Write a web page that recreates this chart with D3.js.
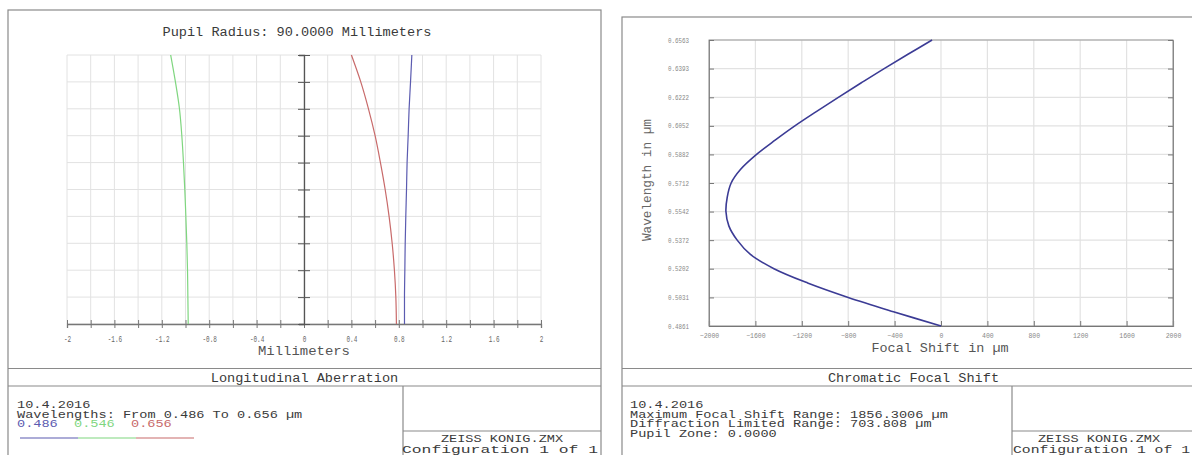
<!DOCTYPE html>
<html><head><meta charset="utf-8">
<script src="https://cdn.jsdelivr.net/npm/d3@7"></script>
<style>
body{margin:0;background:#fff}
svg{display:block}
text{font-family:"Liberation Mono","Courier New",monospace}
</style>
</head><body>
<svg id="c" width="1192" height="455"></svg>
<script>
// ---------- Longitudinal aberration data ----------
const pupil = [0, 0.1, 0.2, 0.3, 0.4, 0.5, 0.6, 0.7, 0.8, 0.9, 1.0];
const wl486 = [0.848, 0.848, 0.851, 0.854, 0.859, 0.865, 0.870, 0.879, 0.887, 0.899, 0.910];
const wl546 = [-0.977, -0.980, -0.983, -0.989, -0.997, -1.006, -1.017, -1.031, -1.051, -1.085, -1.125];
const wl656 = [0.780, 0.775, 0.763, 0.744, 0.718, 0.685, 0.645, 0.600, 0.544, 0.479, 0.400];
const lonXTicks = [-2, -1.8, -1.6, -1.4, -1.2, -1, -0.8, -0.6, -0.4, -0.2, 0, 0.2, 0.4, 0.6, 0.8, 1, 1.2, 1.4, 1.6, 1.8, 2];
const lonXLabels = ["-2", "", "-1.6", "", "-1.2", "", "-0.8", "", "-0.4", "", "0", "", "0.4", "", "0.8", "", "1.2", "", "1.6", "", "2"];
const legendNames = ["0.486", "0.546", "0.656"];
const legendColors = ["#5b5bb0", "#7fd67f", "#c86a6a"];

// ---------- Chromatic focal shift data ----------
const cfsWavelength = [0.4861, 0.4946, 0.5031, 0.5117, 0.5202, 0.5287, 0.5372, 0.5457, 0.5542, 0.5627, 0.5712, 0.5792, 0.5882, 0.5967, 0.6052, 0.6137, 0.6222, 0.6307, 0.6393, 0.6478, 0.6563];
const cfsShift = [0, -410, -800, -1150, -1440, -1643, -1757, -1829, -1854, -1843, -1809, -1729, -1590, -1430, -1260, -1075, -885, -690, -490, -285, -77];
const cfsYTicks = [0.4861, 0.5031, 0.5202, 0.5372, 0.5542, 0.5712, 0.5882, 0.6052, 0.6222, 0.6393, 0.6563];
const cfsYLabels = ["0.4861", "0.5031", "0.5202", "0.5372", "0.5542", "0.5712", "0.5882", "0.6052", "0.6222", "0.6393", "0.6563"];
const cfsXTicks = [-2000, -1600, -1200, -800, -400, 0, 400, 800, 1200, 1600, 2000];

const svg = d3.select("#c");
const TXT = "#3a3a3a";
const BORDER = "#8a8a8a";
const GRID = "#e2e2e2";
const CW = 8.15; // character advance of the report font

function mono(sel, str, size) {
  return sel.attr("font-size", size).attr("textLength", str.length * CW)
    .attr("lengthAdjust", "spacingAndGlyphs").text(str);
}

function panel(o) {
  const g = svg.append("g");
  const {x0, y0, x1, y1, divX} = o;
  g.append("rect").attr("x", x0).attr("y", y0).attr("width", x1 - x0).attr("height", y1 - y0)
    .attr("fill", "none").attr("stroke", BORDER).attr("stroke-width", 1.2);
  g.append("line").attr("x1", x0).attr("x2", x1).attr("y1", 368.5).attr("y2", 368.5).attr("stroke", BORDER).attr("stroke-width", 1.2);
  g.append("line").attr("x1", x0).attr("x2", x1).attr("y1", 386).attr("y2", 386).attr("stroke", BORDER).attr("stroke-width", 1.2);
  g.append("line").attr("x1", divX).attr("x2", divX).attr("y1", 386).attr("y2", y1).attr("stroke", BORDER).attr("stroke-width", 1.2);
  g.append("line").attr("x1", divX).attr("x2", x1).attr("y1", 431).attr("y2", 431).attr("stroke", BORDER).attr("stroke-width", 1.2);
  mono(g.append("text").attr("x", (x0 + x1) / 2).attr("y", 382).attr("text-anchor", "middle").attr("fill", TXT), o.title, 12.5);
  o.lines.forEach((t, i) => {
    mono(g.append("text").attr("x", o.textX).attr("y", 408 + i * 9.5).attr("fill", TXT), t, 11);
  });
  mono(g.append("text").attr("x", o.fileX).attr("y", 441.5).attr("text-anchor", "middle").attr("fill", TXT),
    "ZEISS KONIG.ZMX", 11.5);
  g.append("text").attr("x", o.cfgX).attr("y", 452.5).attr("font-size", 11.5).attr("fill", TXT)
    .attr("textLength", o.cfgW).attr("lengthAdjust", "spacingAndGlyphs").text("Configuration 1 of 1");
  return g;
}

// ================= LEFT: Longitudinal Aberration =================
const L = panel({x0: 8, y0: 10, x1: 601, y1: 480, divX: 403, title: "Longitudinal Aberration",
  lines: ["10.4.2016", "Wavelengths: From 0.486 To 0.656 \u00b5m"], textX: 17,
  fileX: 502, cfgX: 402, cfgW: 196});
legendNames.forEach((n, i) => {
  mono(L.append("text").attr("x", 17 + i * 57).attr("y", 427).attr("fill", legendColors[i]), n, 11);
  L.append("line").attr("x1", 20 + i * 58).attr("x2", 20 + (i + 1) * 58).attr("y1", 438).attr("y2", 438)
    .attr("stroke", legendColors[i]).attr("stroke-width", 1.2);
});

mono(L.append("text").attr("x", 297).attr("y", 36).attr("text-anchor", "middle").attr("fill", TXT),
  "Pupil Radius: 90.0000 Millimeters", 12.5);

const lx0 = 67, lx1 = 541, ly0 = 55, ly1 = 324;
const xL = d3.scaleLinear().domain([-2, 2]).range([lx0, lx1]);
const yL = d3.scaleLinear().domain([0, 1]).range([ly1, ly0]);

const lg = L.append("g");
lg.selectAll("line.vg").data(lonXTicks).join("line")
  .attr("x1", d => xL(d)).attr("x2", d => xL(d)).attr("y1", ly0).attr("y2", ly1)
  .attr("stroke", GRID).attr("stroke-width", 1);
lg.selectAll("line.hg").data(pupil).join("line").attr("class", "hg")
  .attr("x1", lx0).attr("x2", lx1).attr("y1", d => yL(d)).attr("y2", d => yL(d))
  .attr("stroke", GRID).attr("stroke-width", 1);

const axL = d3.axisBottom(xL).tickValues(lonXTicks)
  .tickFormat((d, i) => lonXLabels[i]).tickSize(4).tickPadding(8);
const axLg = L.append("g").attr("transform", `translate(0,${ly1})`).call(axL);
axLg.select(".domain").attr("stroke", "#777").attr("stroke-width", 1.3);
axLg.selectAll(".tick line").attr("y1", -4).attr("y2", 4).attr("stroke", "#777");
axLg.selectAll(".tick text").attr("fill", "#666").attr("font-size", 9)
  .attr("textLength", function() { return this.textContent.length * 3.6; })
  .attr("lengthAdjust", "spacingAndGlyphs");

const ayL = d3.axisLeft(yL).tickValues(pupil).tickFormat("").tickSize(5);
const ayLg = L.append("g").attr("transform", `translate(${xL(0)},0)`).call(ayL);
ayLg.select(".domain").attr("stroke", "#555").attr("stroke-width", 1.3);
ayLg.selectAll(".tick line").attr("x1", -6).attr("x2", 6).attr("stroke", "#555");

L.append("text").attr("x", 304).attr("y", 355).attr("text-anchor", "middle").attr("font-size", 13)
  .attr("textLength", 92).attr("lengthAdjust", "spacingAndGlyphs")
  .attr("fill", "#555").text("Millimeters");

const lineL = d3.line().x(d => xL(d[0])).y(d => yL(d[1])).curve(d3.curveMonotoneY);
[[wl486, legendColors[0]], [wl546, legendColors[1]], [wl656, legendColors[2]]].forEach(([arr, c]) => {
  L.append("path").attr("d", lineL(arr.map((v, i) => [v, pupil[i]])))
    .attr("fill", "none").attr("stroke", c).attr("stroke-width", 1.2);
});

// ================= RIGHT: Chromatic Focal Shift =================
const R = panel({x0: 622, y0: 17, x1: 1205, y1: 480, divX: 1012, title: "Chromatic Focal Shift",
  lines: ["10.4.2016", "Maximum Focal Shift Range: 1856.3006 \u00b5m", "Diffraction Limited Range: 703.808 \u00b5m", "Pupil Zone: 0.0000"],
  textX: 630, fileX: 1099, cfgX: 1013, cfgW: 177});

const rx0 = 709, rx1 = 1173, ry0 = 40, ry1 = 326;
const xR = d3.scaleLinear().domain([-2000, 2000]).range([rx0, rx1]);
const yR = d3.scaleLinear().domain([0.4861, 0.6563]).range([ry1, ry0]);

const rg = R.append("g");
rg.selectAll("line.vg").data(cfsXTicks).join("line")
  .attr("x1", d => xR(d)).attr("x2", d => xR(d)).attr("y1", ry0).attr("y2", ry1)
  .attr("stroke", GRID).attr("stroke-width", 1.2);
rg.selectAll("line.hg").data(cfsYTicks).join("line").attr("class", "hg")
  .attr("x1", rx0).attr("x2", rx1).attr("y1", d => yR(d)).attr("y2", d => yR(d))
  .attr("stroke", GRID).attr("stroke-width", 1.2);
R.append("rect").attr("x", rx0).attr("y", ry0).attr("width", rx1 - rx0).attr("height", ry1 - ry0)
  .attr("fill", "none").attr("stroke", "#9a9a9a").attr("stroke-width", 1);

const axR = d3.axisBottom(xR).tickValues(cfsXTicks).tickFormat(d3.format("d")).tickSize(-5).tickPadding(7);
const axRg = R.append("g").attr("transform", `translate(0,${ry1})`).call(axR);
axRg.select(".domain").attr("stroke", "#777").attr("stroke-width", 1.2);
axRg.selectAll(".tick line").attr("stroke", "#777");
axRg.selectAll(".tick text").attr("fill", "#888").attr("font-size", 7)
  .attr("textLength", function() { return this.textContent.length * 3.9; })
  .attr("lengthAdjust", "spacingAndGlyphs");

const ayR = d3.axisLeft(yR).tickValues(cfsYTicks).tickFormat((d, i) => cfsYLabels[i]).tickSize(-5).tickPadding(20);
const ayRg = R.append("g").attr("transform", `translate(${rx0},0)`).call(ayR);
ayRg.select(".domain").attr("stroke", "#888");
ayRg.selectAll(".tick line").attr("stroke", "#777");
ayRg.selectAll(".tick text").attr("fill", "#888").attr("font-size", 6.5)
  .attr("textLength", 21).attr("lengthAdjust", "spacingAndGlyphs");

const ayR2 = d3.axisRight(yR).tickValues(cfsYTicks).tickFormat("").tickSize(-5);
const ayR2g = R.append("g").attr("transform", `translate(${rx1},0)`).call(ayR2);
ayR2g.select(".domain").attr("stroke", "#888");
ayR2g.selectAll(".tick line").attr("stroke", "#777");

R.append("text").attr("x", 940).attr("y", 352).attr("text-anchor", "middle").attr("font-size", 13)
  .attr("textLength", 137).attr("lengthAdjust", "spacingAndGlyphs")
  .attr("fill", "#555").text("Focal Shift in \u00b5m");
R.append("text").attr("transform", "translate(651,180) rotate(-90)").attr("text-anchor", "middle")
  .attr("font-size", 12).attr("textLength", 122).attr("lengthAdjust", "spacingAndGlyphs")
  .attr("fill", "#666").text("Wavelength in \u00b5m");

const lineR = d3.line().x(d => xR(d[0])).y(d => yR(d[1])).curve(d3.curveCatmullRom);
R.append("path").attr("d", lineR(cfsShift.map((v, i) => [v, cfsWavelength[i]])))
  .attr("fill", "none").attr("stroke", "#3b3b95").attr("stroke-width", 1.6);
</script>
</body></html>
